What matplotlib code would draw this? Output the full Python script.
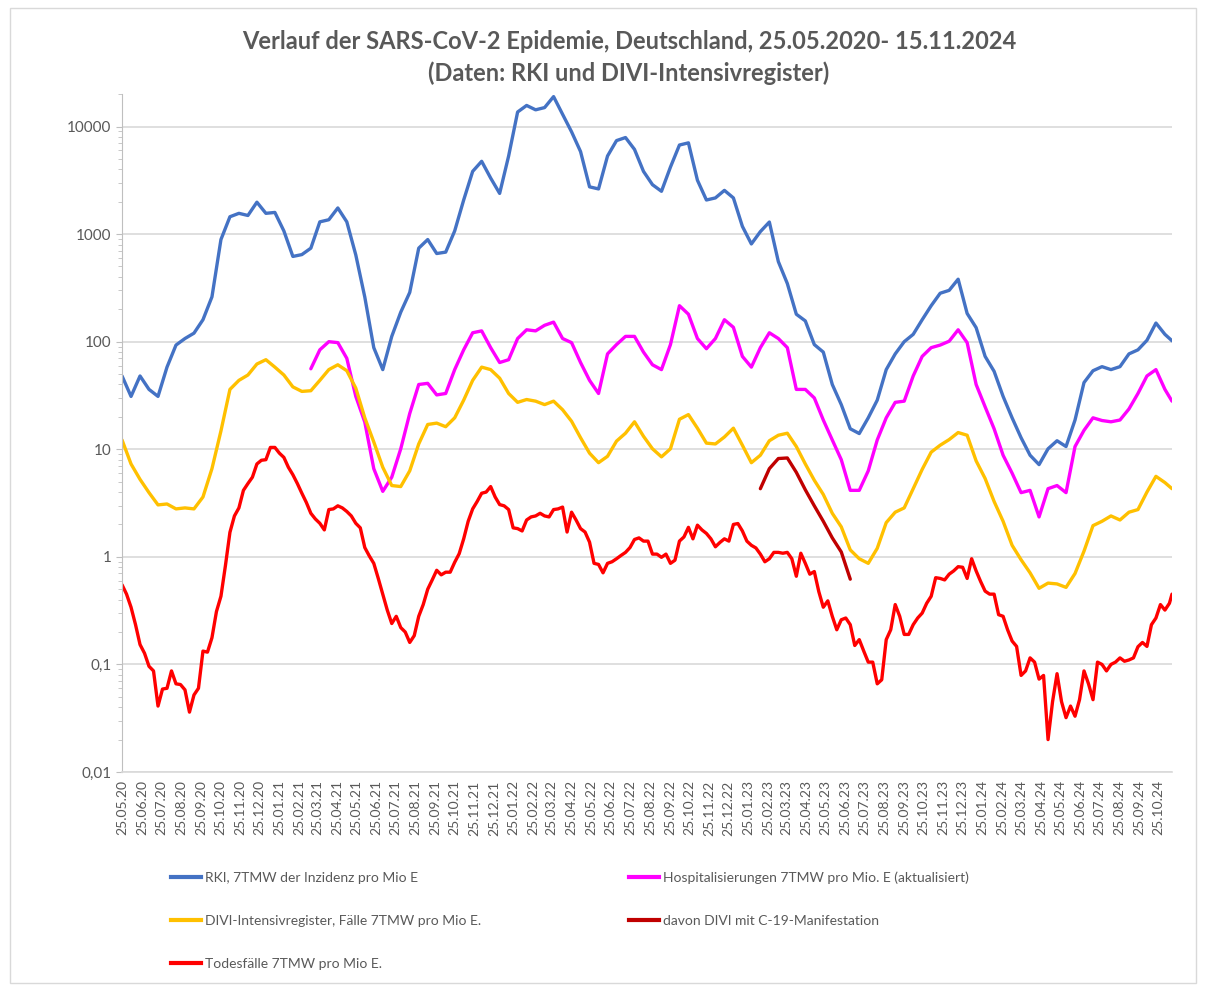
import numpy as np
import pandas as pd
import matplotlib
matplotlib.use('Agg')
import matplotlib.pyplot as plt
from matplotlib.lines import Line2D
from matplotlib.patches import Rectangle

plt.rcParams['font.family'] = ['Lato', 'DejaVu Sans']

start = pd.Timestamp('2020-05-25')
end = pd.Timestamp('2024-11-15')

# RKI incidence, 7-day mean per million, every 14 days from start (+ last day)
rki = [48, 31, 48, 36, 31, 58, 93, 107, 120, 160,
       261, 890, 1450, 1560, 1490, 1980, 1560, 1590, 1070, 620,
       645, 740, 1300, 1360, 1750, 1300, 640, 260, 88, 55,
       112, 188, 287, 740, 890, 660, 680, 1070, 2075, 3830,
       4750, 3320, 2390, 5320, 13650, 15700, 14300, 15000, 18970, 13000,
       8930, 5850, 2750, 2630, 5320, 7400, 7900, 6130, 3830, 2880,
       2500, 4200, 6730, 7050, 3170, 2075, 2170, 2550, 2170, 1180,
       810, 1055, 1295, 555, 347, 180, 156, 94, 80, 40,
       26, 15.5, 14, 19.6, 28.6, 55, 77, 100, 117, 160,
       216, 282, 300, 381, 183, 135, 73, 53, 31, 19.6,
       12.8, 8.8, 7.2, 10.1, 12, 10.6, 18.7, 41.7, 53.7, 58.6,
       55, 58.6, 77, 84, 103, 149, 117, 102]

# hospitalisations, starts at step 21
hosp_start = 21
hosp = [56, 84, 100, 98, 70, 31, 17.9, 6.6, 4.06,
        5.5, 10.1, 21.5, 40, 41, 32, 33, 55, 84, 121,
        126, 88, 64, 68, 107, 129, 126, 142, 152, 107,
        98, 64, 43.7, 33, 77, 94, 112, 112, 80,
        61, 55, 94, 216, 180, 107, 86, 107, 160, 136, 73,
        58, 88, 121, 107, 88, 36, 36, 30, 18.7, 12.2,
        8, 4.15, 4.15, 6.3, 12.2, 19.6, 27.3, 28,
        48, 73, 88, 93, 101, 129, 98, 40, 24.8, 15.5, 8.8, 6.0,
        3.95, 4.15, 2.35, 4.3, 4.6, 3.95, 10.6, 15, 19.6, 18.5,
        18, 18.7, 23.7, 33, 48, 55, 36, 28]

# DIVI ICU cases
divi = [12.2, 7.3, 5.25, 3.95, 3.04, 3.1, 2.79, 2.85, 2.79, 3.6,
        6.6, 14.8, 36, 43.7, 49, 62, 68, 58, 49, 38,
        34.5, 35, 43.7, 55, 61, 53.7, 37, 19.6, 11.7, 6.8,
        4.6, 4.5, 6.3, 11.2, 17, 17.5, 16.2, 19.6, 28.6, 43.7,
        58, 55, 45.8, 33, 27.3, 29, 28, 26, 28, 23.3,
        18.2, 12.8, 9.2, 7.5, 8.6, 11.9, 14.1, 18, 13.2, 10.1,
        8.5, 10.1, 19, 21, 15.7, 11.4, 11.2, 13, 15.7, 10.9,
        7.5, 8.8, 12, 13.5, 14.1, 10.6, 7.3, 5.15, 3.8, 2.54,
        1.9, 1.16, 0.96, 0.87, 1.2, 2.08, 2.6, 2.85, 4.3, 6.5,
        9.4, 10.9, 12.3, 14.3, 13.5, 7.8, 5.35, 3.27, 2.14, 1.28,
        0.94, 0.71, 0.51, 0.57, 0.56, 0.52, 0.7, 1.13, 1.95, 2.14,
        2.4, 2.2, 2.6, 2.75, 4.0, 5.6, 4.9, 4.3]

# DIVI with C-19 manifestation, starts at step 71
manif_start = 71
manif = [4.3, 6.6, 8.2, 8.3, 6.1, 4.2, 2.98, 2.14, 1.5, 1.11, 0.62]

# deaths, every 7 days (+ last day)
deaths = [0.55, 0.45, 0.34, 0.234, 0.153, 0.127, 0.096, 0.087, 0.041, 0.059,
          0.06, 0.087, 0.066, 0.065, 0.058, 0.036, 0.052, 0.06, 0.133, 0.13,
          0.177, 0.31, 0.43, 0.83, 1.69, 2.4, 2.85, 4.15, 4.8, 5.5,
          7.3, 7.9, 8.0, 10.4, 10.4, 9.2, 8.4, 6.8, 5.8, 4.8,
          3.9, 3.2, 2.54, 2.25, 2.05, 1.78, 2.75, 2.79, 2.98, 2.85,
          2.64, 2.4, 2.05, 1.86, 1.22, 1.02, 0.87, 0.63, 0.45, 0.32,
          0.24, 0.28, 0.22, 0.2, 0.16, 0.185, 0.28, 0.36, 0.5, 0.61,
          0.75, 0.68, 0.72, 0.72, 0.89, 1.07, 1.47, 2.14, 2.79, 3.27,
          3.9, 4.0, 4.5, 3.6, 3.06, 2.98, 2.75, 1.86, 1.83, 1.74,
          2.2, 2.35, 2.4, 2.54, 2.4, 2.35, 2.75, 2.79, 2.9, 1.7,
          2.6, 2.2, 1.83, 1.7, 1.37, 0.87, 0.85, 0.71, 0.87, 0.9,
          0.96, 1.03, 1.1, 1.22, 1.45, 1.5, 1.4, 1.4, 1.06, 1.06,
          0.99, 1.06, 0.87, 0.93, 1.4, 1.53, 1.88, 1.47, 1.97, 1.78,
          1.65, 1.47, 1.24, 1.36, 1.47, 1.4, 2.0, 2.04, 1.74, 1.4,
          1.28, 1.21, 1.06, 0.9, 0.96, 1.1, 1.1, 1.08, 1.1, 0.96,
          0.66, 1.08, 0.87, 0.69, 0.73, 0.475, 0.34, 0.39, 0.28, 0.21,
          0.26, 0.27, 0.234, 0.15, 0.17, 0.133, 0.105, 0.105, 0.066, 0.072,
          0.17, 0.21, 0.36, 0.28, 0.19, 0.19, 0.234, 0.27, 0.3, 0.37,
          0.43, 0.64, 0.63, 0.61, 0.69, 0.74, 0.81, 0.8, 0.63, 0.96,
          0.74, 0.59, 0.48, 0.45, 0.45, 0.29, 0.28, 0.21, 0.165, 0.147,
          0.079, 0.087, 0.115, 0.105, 0.073, 0.079, 0.02, 0.045, 0.082, 0.045,
          0.032, 0.041, 0.033, 0.047, 0.087, 0.066, 0.047, 0.105, 0.1, 0.087,
          0.1, 0.105, 0.115, 0.107, 0.11, 0.115, 0.146, 0.16, 0.147, 0.234,
          0.27, 0.36, 0.32, 0.37, 0.45]

labels = ['RKI, 7TMW der Inzidenz pro Mio E',
          'Hospitalisierungen 7TMW pro Mio. E (aktualisiert)',
          'DIVI-Intensivregister, Fälle 7TMW pro Mio E.',
          'davon DIVI mit C-19-Manifestation',
          'Todesfälle 7TMW pro Mio E.']
colors = ['#4472C4', '#FF00FF', '#FFC000', '#C00000', '#FF0000']
ytick_vals = [0.01, 0.1, 1, 10, 100, 1000, 10000]
ytick_labels = ['0,01', '0,1', '1', '10', '100', '1000', '10000']


def step_dates(n, step, offset=0, last=False):
    d = [start + pd.Timedelta(days=step * (offset + k)) for k in range(n)]
    if last:
        d[-1] = end
    return d


fig = plt.figure(figsize=(12.06, 9.91), dpi=100)
ax = fig.add_axes([0.1012, 0.221, 0.8706, 0.684])

lw = 2.4
series = [
    (step_dates(len(rki), 14, last=True), rki, colors[0]),
    (step_dates(len(hosp), 14, hosp_start, last=True), hosp, colors[1]),
    (step_dates(len(divi), 14, last=True), divi, colors[2]),
    (step_dates(len(manif), 14, manif_start), manif, colors[3]),
    (step_dates(len(deaths), 7, last=True), deaths, colors[4]),
]
for d, v, c in series:
    ax.plot(d, v, color=c, lw=lw, solid_joinstyle='round', solid_capstyle='round')

ax.set_yscale('log')
ax.set_ylim(0.01, 20000)
ax.set_xlim(start, end)
ax.set_yticks(ytick_vals)
ax.set_yticklabels(ytick_labels)
ax.yaxis.set_minor_formatter(plt.NullFormatter())
ax.grid(True, axis='y', which='major', color='#D9D9D9', lw=1.2)
ax.set_axisbelow(True)

months = pd.date_range('2020-05-25', '2024-10-25', freq=pd.DateOffset(months=1))
ax.set_xticks(months)
ax.set_xticklabels([m.strftime('%d.%m.%y') for m in months], rotation=90)
ax.tick_params(axis='x', length=0, pad=6, labelsize=10, labelcolor='#595959')
ax.tick_params(axis='y', which='major', length=4, color='#BFBFBF', labelsize=11, labelcolor='#595959')
ax.tick_params(axis='y', which='minor', length=3, color='#BFBFBF')

for s in ['top', 'right']:
    ax.spines[s].set_visible(False)
ax.spines['left'].set_color('#BFBFBF')
ax.spines['bottom'].set_color('#D9D9D9')
ax.spines['bottom'].set_linewidth(1.2)

fig.text(0.5216, 0.958, 'Verlauf der SARS-CoV-2 Epidemie, Deutschland, 25.05.2020- 15.11.2024',
         ha='center', va='center', fontsize=17, fontweight='bold', color='#595959')
fig.text(0.5216, 0.926, '(Daten: RKI und DIVI-Intensivregister)',
         ha='center', va='center', fontsize=17, fontweight='bold', color='#595959')

handles = [Line2D([], [], color=c, lw=3) for c in colors]
leg_kw = dict(frameon=False, fontsize=10, labelcolor='#595959', handlelength=2.2,
              handletextpad=0.25, labelspacing=2.25, borderaxespad=0, loc='upper left')
fig.legend([handles[0], handles[2], handles[4]], [labels[0], labels[2], labels[4]],
           bbox_to_anchor=(165 / 1206, 1 - 866 / 991), **leg_kw)
fig.legend([handles[1], handles[3]], [labels[1], labels[3]],
           bbox_to_anchor=(623 / 1206, 1 - 866 / 991), **leg_kw)

fig.add_artist(Rectangle((10 / 1206, 8 / 991), 1186 / 1206, 975 / 991, transform=fig.transFigure,
                         fill=False, edgecolor='#D9D9D9', lw=1))

fig.savefig('out.png', dpi=100)
